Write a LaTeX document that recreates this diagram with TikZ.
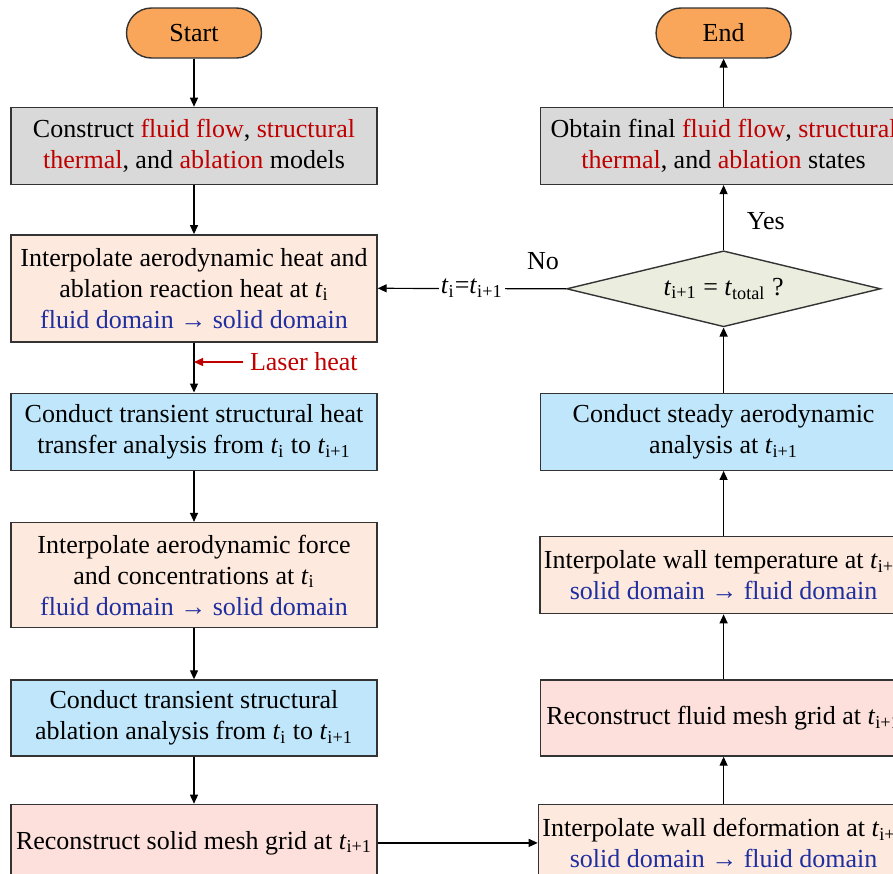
\documentclass[tikz,border=0pt]{standalone}
\usepackage{fontspec}
\setmainfont{Liberation Serif}
\usepackage{tikz}
\usetikzlibrary{arrows.meta,positioning,shapes.geometric}
\definecolor{flowgray}{HTML}{D9D9D9}
\definecolor{flowpeach}{HTML}{FDE9DD}
\definecolor{flowpink}{HTML}{FDE0DB}
\definecolor{flowblue}{HTML}{BFE6FA}
\definecolor{flowsage}{HTML}{EBEDDF}
\definecolor{floworange}{HTML}{F9A65A}
\definecolor{flowred}{HTML}{C00000}
\definecolor{flowink}{HTML}{1F2F9F}
\definecolor{flowline}{HTML}{333333}
\newcommand{\tsub}[1]{\textit{t}\textsubscript{#1}}
\newcommand{\rd}[1]{\textcolor{flowred}{#1}}
\newcommand{\bl}[1]{\textcolor{flowink}{#1}}

\begin{document}
\begin{tikzpicture}[
x=0.5pt,y=-0.5pt,
node distance=24.5pt and 80pt,
font=\fontsize{13pt}{15.5pt}\selectfont,
box/.style={draw=flowline,line width=0.7pt,align=center,
minimum width=183pt,minimum height=38.5pt,inner sep=2pt},
term/.style={box,rounded corners=12.5pt,fill=floworange,
minimum width=67.5pt,minimum height=25pt},
gray/.style={box,fill=flowgray},
peach/.style={box,fill=flowpeach,minimum height=53.5pt},
pink/.style={box,fill=flowpink},
blue/.style={box,fill=flowblue},
dec/.style={diamond,draw=flowline,line width=0.7pt,fill=flowsage,
aspect=4.1,inner sep=0pt,minimum width=157pt,minimum height=38pt},
arr/.style={-{Triangle[length=4.5pt,width=4pt]},line width=0.6pt},
redarr/.style={arr,draw=flowred,fill=flowred}
]
\useasboundingbox (0,0) rectangle (893,873);

\node[term] (start) at (194,33) {Start};
\node[gray,below=24pt of start] (build) {Construct \rd{fluid flow}, \rd{structural}\\ \rd{thermal}, and \rd{ablation} models};
\node[peach,below=of build] (heatmap) {Interpolate aerodynamic heat and\\ ablation reaction heat at \tsub{i}\\ \bl{fluid domain → solid domain}};
\node[blue,below=25pt of heatmap] (heatrun) {Conduct transient structural heat\\ transfer analysis from \tsub{i} to \tsub{i+1}};
\node[peach,below=25.5pt of heatrun,minimum height=52.5pt] (forcemap) {Interpolate aerodynamic force\\ and concentrations at \tsub{i}\\ \bl{fluid domain → solid domain}};
\node[blue,below=25.5pt of forcemap,minimum height=38pt] (ablrun) {Conduct transient structural\\ ablation analysis from \tsub{i} to \tsub{i+1}};
\node[pink,below=23.5pt of ablrun] (solidmesh) {Reconstruct solid mesh grid at \tsub{i+1}};

\node[peach,right=of solidmesh,minimum height=38.5pt] (defmap) {Interpolate wall deformation at \tsub{i+1}\\ \bl{solid domain → fluid domain}};
\node[pink,above=23.5pt of defmap,minimum height=38pt] (fluidmesh) {Reconstruct fluid mesh grid at \tsub{i+1}};
\node[peach,above=32.5pt of fluidmesh,minimum height=38.5pt] (tempmap) {Interpolate wall temperature at \tsub{i+1}\\ \bl{solid domain → fluid domain}};
\node[blue,above=32.5pt of tempmap] (aerorun) {Conduct steady aerodynamic\\ analysis at \tsub{i+1}};
\node[dec,above=32.5pt of aerorun] (check) {\tsub{i+1} = \textit{t}\textsubscript{total} ?};
\node[gray,above=32.5pt of check] (final) {Obtain final \rd{fluid flow}, \rd{structural}\\ \rd{thermal}, and \rd{ablation} states};
\node[term,above=24pt of final] (stop) {End};

\node[text=flowred,anchor=west] (laser) at (243,362) {Laser heat};
\coordinate (laserin) at (laser.west -| heatmap.south);

\draw[arr] (start) -- (build);
\draw[arr] (build) -- (heatmap);
\draw[arr] (heatmap) -- (heatrun);
\draw[redarr] (laser.west) -- (laserin);
\draw[arr] (heatrun) -- (forcemap);
\draw[arr] (forcemap) -- (ablrun);
\draw[arr] (ablrun) -- (solidmesh);
\draw[arr] (solidmesh) -- (defmap);
\draw[arr] (defmap) -- (fluidmesh);
\draw[arr] (fluidmesh) -- (tempmap);
\draw[arr] (tempmap) -- (aerorun);
\draw[arr] (aerorun) -- (check);
\draw[arr] (check) -- node[right=8pt,pos=0.45]{Yes} (final);
\draw[arr] (final) -- (stop);
\draw[arr] (check.west) -- node[fill=white,inner sep=1pt]{\tsub{i}=\tsub{i+1}} (heatmap.east);
\node[above left=6pt and 0pt of check.west] (no) {No};
\end{tikzpicture}
\end{document}
